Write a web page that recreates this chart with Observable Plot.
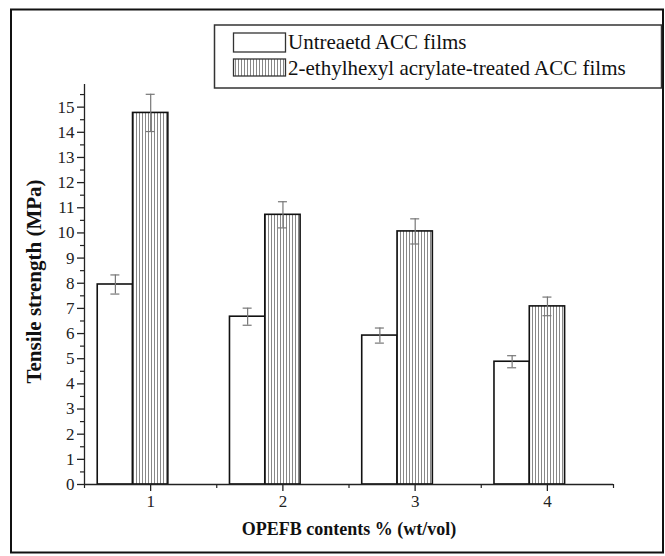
<!DOCTYPE html>
<html>
<head>
<meta charset="utf-8">
<script src="https://cdn.jsdelivr.net/npm/d3@7"></script>
<script src="https://cdn.jsdelivr.net/npm/@observablehq/plot@0.6"></script>
<style>
  html, body { margin: 0; padding: 0; background: #fff; }
  #chart svg { display: block; }
  #chart svg, #chart svg text { font-family: "Liberation Serif", "Times New Roman", serif !important; }
</style>
</head>
<body>
<div id="chart"></div>
<script>
// ---- data ----
const categories = [1, 2, 3, 4];
const untreated = [7.95, 6.67, 5.92, 4.88];
const untreatedErr = [0.38, 0.34, 0.30, 0.24];
const treated = [14.77, 10.72, 10.06, 7.08];
const treatedErr = [0.74, 0.52, 0.50, 0.37];
const seriesNames = ["Untreaetd ACC films", "2-ethylhexyl acrylate-treated ACC films"];
const yTicks = d3.range(0, 16);
const yMinor = d3.range(0.5, 16, 1);
const xTicks = [1, 2, 3, 4];
const xMinor = [0.5, 1.5, 2.5, 3.5, 4.5];
const xLabel = "OPEFB contents % (wt/vol)";
const yLabel = "Tensile strength (MPa)";

// layout constants
const W = 665, H = 556;
const barW = 0.267;
const capHalf = 0.034;
const serif = "'Liberation Serif', 'Times New Roman', serif";

const rows = [];
categories.forEach((c, i) => {
  rows.push({c, s: 0, v: untreated[i], e: untreatedErr[i], x1: c - 0.4, x2: c - 0.4 + barW});
  rows.push({c, s: 1, v: treated[i], e: treatedErr[i], x1: c - 0.4 + barW, x2: c - 0.4 + 2 * barW});
});
rows.forEach(r => r.xc = (r.x1 + r.x2) / 2);

const plot = Plot.plot({
  width: W,
  height: H,
  marginLeft: 84,
  marginRight: 52,
  marginTop: 84,
  marginBottom: 72,
  style: {fontFamily: serif, fontSize: "16px", color: "#222", background: "#fff"},
  x: {domain: [0.5, 4.5], axis: null},
  y: {domain: [0, 15.9], axis: null},
  marks: [
    Plot.rect(rows, {
      x1: "x1", x2: "x2", y1: 0, y2: "v",
      fill: d => d.s === 0 ? "#fff" : "url(#vhatch)",
      stroke: "#111", strokeWidth: 1.6
    }),
    Plot.ruleX(rows, {x: "xc", y1: d => d.v - d.e, y2: d => d.v + d.e, stroke: "#777", strokeWidth: 1.2}),
    Plot.ruleY(rows, {y: d => d.v + d.e, x1: d => d.xc - capHalf, x2: d => d.xc + capHalf, stroke: "#777", strokeWidth: 1.2}),
    Plot.ruleY(rows, {y: d => d.v - d.e, x1: d => d.xc - capHalf, x2: d => d.xc + capHalf, stroke: "#777", strokeWidth: 1.2}),
    Plot.ruleX([0.5], {stroke: "#222", strokeWidth: 1.3}),
    Plot.ruleY([0], {stroke: "#222", strokeWidth: 1.3}),
    Plot.axisY({ticks: yTicks, tickSize: 7, tickPadding: 3, tickFormat: d3.format("d"), label: null, fontSize: 17, strokeWidth: 1.3}),
    Plot.axisY({ticks: yMinor, tickSize: 4, tickFormat: () => "", label: null, strokeWidth: 1.2}),
    Plot.axisX({ticks: xTicks, tickSize: 7, tickPadding: 3, tickFormat: d3.format("d"), label: null, fontSize: 17, strokeWidth: 1.3}),
    Plot.axisX({ticks: xMinor, tickSize: 4, tickFormat: () => "", label: null, strokeWidth: 1.2}),
    Plot.text([xLabel], {frameAnchor: "bottom", dy: 50, fontWeight: "bold", fontSize: 18, fill: "#111"}),
    Plot.text([yLabel], {frameAnchor: "left", textAnchor: "middle", dx: -50, dy: -3, rotate: -90, fontWeight: "bold", fontSize: 21, fill: "#111"})
  ]
});

// pattern + frame + legend
const svg = d3.select(plot);
svg.style("font-family", serif);
const defs = svg.insert("defs", ":first-child");
const pat = defs.append("pattern").attr("id", "vhatch").attr("patternUnits", "userSpaceOnUse")
  .attr("width", 3).attr("height", 10);
pat.append("rect").attr("width", 3).attr("height", 10).attr("fill", "#fff");
pat.append("line").attr("x1", 1.5).attr("x2", 1.5).attr("y1", 0).attr("y2", 10)
  .attr("stroke", "#888").attr("stroke-width", 1);

svg.append("rect").attr("x", 11).attr("y", 9.5).attr("width", 652).attr("height", 543)
  .attr("fill", "none").attr("stroke", "#111").attr("stroke-width", 2);

const lg = svg.append("g").attr("font-family", serif).attr("text-anchor", "start");
lg.append("rect").attr("x", 214.5).attr("y", 25).attr("width", 447).attr("height", 63)
  .attr("fill", "#fff").attr("stroke", "#333").attr("stroke-width", 1.5);
lg.append("rect").attr("x", 233.5).attr("y", 33).attr("width", 52).attr("height", 19)
  .attr("fill", "#fff").attr("stroke", "#333").attr("stroke-width", 1.3);
lg.append("rect").attr("x", 233.5).attr("y", 59).attr("width", 52).attr("height", 17)
  .attr("fill", "url(#vhatch)").attr("stroke", "#333").attr("stroke-width", 1.3);
seriesNames.forEach((name, i) => {
  lg.append("text").attr("x", 288).attr("y", i === 0 ? 48.5 : 75)
    .attr("text-anchor", "start")
    .attr("font-size", 21).attr("fill", "#111").text(name);
});

document.getElementById("chart").appendChild(plot);
</script>
</body>
</html>
